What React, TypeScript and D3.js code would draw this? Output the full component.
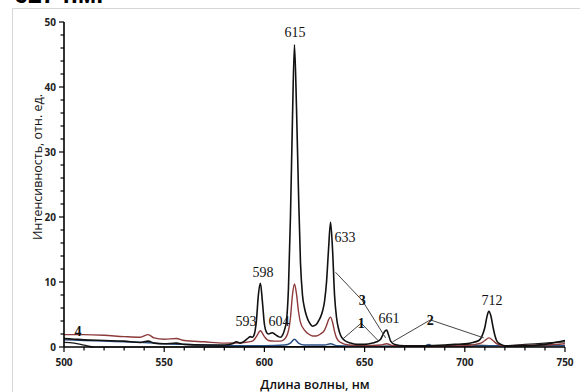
import * as d3 from 'd3';

type Pt = [number, number];

// wavelength (nm), intensity
const curve3: Pt[] = [
  [500, 1.3], [505, 1.2], [510, 1.1], [520, 1.0], [530, 0.9], [538, 0.7], [542, 0.9], [545, 0.6],
  [550, 0.5], [556, 0.6], [560, 0.4], [570, 0.3], [580, 0.3], [584, 0.5], [586, 0.8], [588, 0.6],
  [590, 0.9], [592, 1.4], [593, 1.6], [594, 1.5], [595, 2.0], [596, 4.0], [597, 8.0], [598, 9.8],
  [599, 7.0], [600, 3.5], [601, 2.3], [602, 2.0], [603, 2.1], [604, 2.2], [605, 2.0], [606, 1.8],
  [607, 1.6], [608, 1.5], [609, 1.8], [610, 2.6], [611, 4.0], [612, 9], [613, 20], [614, 35],
  [615, 46.5], [616, 37], [617, 24], [618, 13], [619, 8], [620, 6], [621, 4.8], [622, 4.0],
  [623, 3.5], [624, 3.2], [625, 3.3], [626, 3.5], [627, 4.0], [628, 4.6], [629, 5.5], [630, 7.0],
  [631, 10], [632, 15], [633, 19.2], [634, 15], [635, 8], [636, 4.5], [637, 2.8], [638, 1.8],
  [640, 1.0], [643, 0.6], [646, 0.4], [650, 0.4], [654, 0.6], [656, 0.8], [658, 1.2], [659, 1.8],
  [660, 2.4], [661, 2.6], [662, 1.8], [663, 0.9], [665, 0.4], [670, 0.2], [680, 0.2], [690, 0.3],
  [695, 0.4], [700, 0.5], [704, 0.7], [707, 1.0], [709, 2.0], [710, 3.0], [711, 4.6], [712, 5.5],
  [713, 4.8], [714, 3.2], [715, 1.8], [716, 0.9], [718, 0.4], [720, 0.2], [730, 0.2], [740, 0.4],
  [745, 0.7], [750, 1.0],
];

const curve4: Pt[] = [
  [500, 1.9], [510, 1.9], [520, 1.8], [530, 1.6], [538, 1.5], [542, 1.9], [545, 1.4], [550, 1.2],
  [556, 1.3], [560, 1.0], [570, 0.8], [580, 0.6], [590, 0.7], [594, 0.9], [596, 1.6], [598, 2.5],
  [600, 1.6], [602, 1.0], [605, 0.9], [608, 0.9], [610, 1.2], [612, 2.5], [613, 4.5], [614, 8],
  [615, 9.7], [616, 8.2], [617, 5.5], [618, 3.8], [620, 2.6], [622, 2.0], [624, 1.7], [626, 1.7],
  [628, 2.0], [630, 2.6], [631, 3.3], [632, 4.2], [633, 4.6], [634, 3.8], [635, 2.4], [636, 1.4],
  [638, 0.7], [642, 0.3], [650, 0.2], [658, 0.3], [661, 0.5], [664, 0.2], [680, 0.1], [700, 0.2],
  [708, 0.6], [710, 1.0], [712, 1.4], [714, 1.0], [716, 0.5], [720, 0.2], [740, 0.3], [750, 0.5],
];

const curve1: Pt[] = [
  [500, 1.1], [510, 1.0], [520, 0.9], [530, 0.8], [540, 0.7], [550, 0.5], [560, 0.4], [570, 0.3],
  [580, 0.2], [600, 0.2], [610, 0.3], [613, 0.6], [615, 1.2], [617, 0.6], [620, 0.3], [630, 0.3],
  [633, 0.5], [636, 0.2], [650, 0.1], [680, 0.2], [682, 0.4], [684, 0.1], [700, 0.1], [712, 0.2],
  [750, 0.2],
];

const curve2: Pt[] = [
  [500, 0.7], [505, 0.6], [510, 0.3], [515, 0.0], [550, 0.0], [600, 0.05], [650, 0.1], [690, 0.2],
  [700, 0.4], [705, 0.3], [720, 0.2], [730, 0.4], [740, 0.6], [750, 0.8],
];

const xTicks = [500, 550, 600, 650, 700, 750];
const yTicks = [0, 10, 20, 30, 40, 50];

const peakLabels: { text: string; at: Pt }[] = [
  { text: '615', at: [615.3, 47.7] },
  { text: '633', at: [640.2, 16.2] },
  { text: '598', at: [599.3, 10.8] },
  { text: '593', at: [590.8, 3.2] },
  { text: '604', at: [607.3, 3.2] },
  { text: '661', at: [662.2, 3.7] },
  { text: '712', at: [713.6, 6.5] },
];

const curveLabels: { text: string; at: Pt; to: Pt[] }[] = [
  { text: '3', at: [648.8, 6.4], to: [[635.5, 11.5], [660.5, 1.4]] },
  { text: '1', at: [648.3, 2.9], to: [[639, 1.2], [657, 0.9]] },
  { text: '2', at: [682.8, 3.4], to: [[664, 0.8], [709.5, 1.4]] },
  { text: '4', at: [507, 1.7], to: [] },
];

const series: { data: Pt[]; color: string; width: number }[] = [
  { data: curve2, color: '#1a1a1a', width: 1.2 },
  { data: curve1, color: '#2a4f84', width: 1.4 },
  { data: curve4, color: '#8c3a3a', width: 1.4 },
  { data: curve3, color: '#111111', width: 1.6 },
];

export default function App() {
  const x = d3.scaleLinear().domain([500, 750]).range([64, 565]);
  const y = d3.scaleLinear().domain([0, 50]).range([347, 22]);
  const line = d3
    .line<Pt>()
    .x((d) => x(d[0]))
    .y((d) => y(d[1]))
    .curve(d3.curveMonotoneX);

  const xMinor = d3.range(500, 751, 10);
  const yMinor = d3.range(0, 51, 2);
  const sans = '"Open Sans", "Noto Sans", sans-serif';
  const serif = '"Liberation Serif", "Times New Roman", serif';

  return (
    <svg width={580} height={392} style={{ position: 'absolute', left: 0, top: 0, background: '#fff' }}>
      <text x={14} y={3} fontFamily='"Liberation Sans", Arial, sans-serif' fontWeight={700} fontSize={25} fill="#000">
        627 нм.
      </text>
      <path d="M12.5,392 V8.5 H580" fill="none" stroke="#d6d6d6" strokeWidth={1} />

      {series.map((s, i) => (
        <path key={i} d={line(s.data) ?? ''} fill="none" stroke={s.color} strokeWidth={s.width} strokeLinejoin="round" />
      ))}

      {/* axes */}
      <line x1={x(500)} x2={x(750)} y1={y(0)} y2={y(0)} stroke="#000" strokeWidth={1.6} />
      <line x1={x(500)} x2={x(500)} y1={y(0)} y2={y(50)} stroke="#000" strokeWidth={1.6} />
      {xMinor.map((t) => (
        <line key={'xm' + t} x1={x(t)} x2={x(t)} y1={y(0)} y2={y(0) + (t % 50 === 0 ? 5 : 3.5)} stroke="#000" strokeWidth={1.2} />
      ))}
      {yMinor.map((t) => (
        <line key={'ym' + t} x1={x(500) - (t % 10 === 0 ? 5 : 3.5)} x2={x(500)} y1={y(t)} y2={y(t)} stroke="#000" strokeWidth={1.2} />
      ))}
      {xTicks.map((t) => (
        <text key={'xt' + t} x={x(t)} y={366} textAnchor="middle" fontFamily={sans} fontWeight={700} fontSize={10} fill="#222">
          {t}
        </text>
      ))}
      {yTicks.map((t) => (
        <text key={'yt' + t} x={56} y={y(t) + 3.5} textAnchor="end" fontFamily={sans} fontWeight={700} fontSize={10} fill="#222">
          {t}
        </text>
      ))}
      <text x={315} y={389} textAnchor="middle" fontFamily={sans} fontWeight={600} fontSize={12.5} fill="#111">
        Длина волны, нм
      </text>
      <text transform="translate(42,167) rotate(-90)" textAnchor="middle" fontFamily={sans} fontSize={12.5} fill="#111">
        Интенсивность, отн. ед.
      </text>

      {/* annotations */}
      {peakLabels.map((p) => (
        <text key={p.text} x={x(p.at[0])} y={y(p.at[1])} textAnchor="middle" fontFamily={serif} fontSize={14} fill="#111">
          {p.text}
        </text>
      ))}
      {curveLabels.map((c) => (
        <g key={c.text}>
          {c.to.map((p, i) => (
            <line key={i} x1={x(c.at[0])} y1={y(c.at[1]) - 5} x2={x(p[0])} y2={y(p[1])} stroke="#444" strokeWidth={1} />
          ))}
          <text x={x(c.at[0])} y={y(c.at[1])} textAnchor="middle" fontFamily={serif} fontWeight={700} fontSize={14} fill="#111">
            {c.text}
          </text>
        </g>
      ))}
    </svg>
  );
}
